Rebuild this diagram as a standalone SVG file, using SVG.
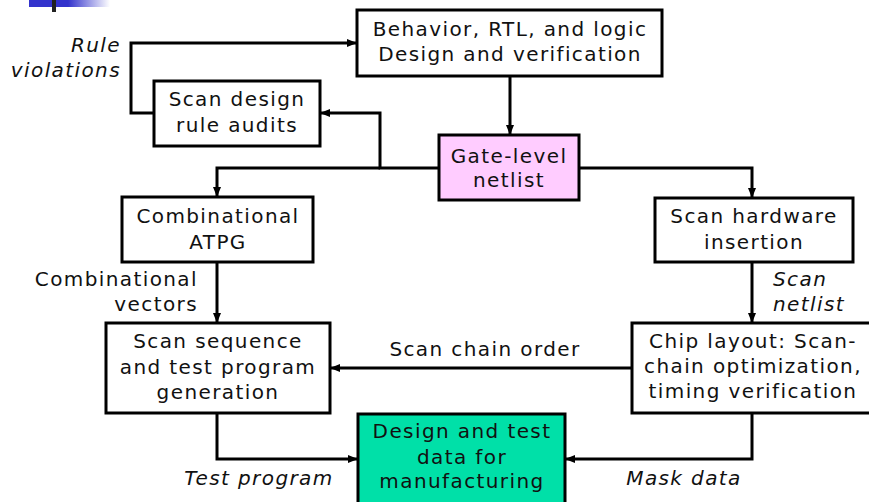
<svg xmlns="http://www.w3.org/2000/svg" width="869" height="502" viewBox="0 0 869 502">
<defs>
<linearGradient id="fade" x1="0" y1="0" x2="1" y2="0">
<stop offset="0" stop-color="#3333CC"/>
<stop offset="1" stop-color="#FFFFFF"/>
</linearGradient>
<marker id="arr" markerUnits="userSpaceOnUse" markerWidth="10" markerHeight="10" viewBox="0 0 10 10" refX="10" refY="5" orient="auto">
<path d="M0,1 L10,5 L0,9 Z" fill="#000"/>
</marker>
<style>
.box{fill:#fff;stroke:#000;stroke-width:3}
.pink{fill:#FFCCFF}
.green{fill:#00E0A8}
text{font-family:"DejaVu Sans","Verdana",sans-serif;font-size:20px;fill:#111;letter-spacing:1.4px}
.c{text-anchor:middle}
.r{text-anchor:end}
.it{font-style:italic}
.ln{fill:none;stroke:#000;stroke-width:3;marker-end:url(#arr)}
</style>
</defs>
<rect width="869" height="502" fill="#fff"/>
<g id="decoration">
<rect x="29" y="0" width="40" height="7" fill="#3333CC"/>
<rect x="68" y="0" width="42" height="7" fill="url(#fade)"/>
<rect x="52" y="0" width="4" height="12" fill="#222"/>
</g>
<g id="connectors">
<polyline class="ln" points="154,113 131,113 131,43 357,43"/>
<polyline class="ln" points="510,76 510,135"/>
<polyline class="ln" points="439,168 380,168 380,113 320,113"/>
<polyline class="ln" points="380,168 217,168 217,197"/>
<polyline class="ln" points="579,168 752,168 752,198"/>
<polyline class="ln" points="217,262 217,323"/>
<polyline class="ln" points="752,262 752,323"/>
<polyline class="ln" points="632,368 330,368"/>
<polyline class="ln" points="217,413 217,459 358,459"/>
<polyline class="ln" points="752,413 752,459 565,459"/>
</g>
<g id="labels">
<text class="r it" x="121" y="52">Rule</text>
<text class="r it" x="121" y="77">violations</text>
<text class="r" x="198" y="286">Combinational</text>
<text class="r" x="198" y="311">vectors</text>
<text class="c" x="485" y="356">Scan chain order</text>
<text class="it" x="773" y="286">Scan</text>
<text class="it" x="773" y="311">netlist</text>
<text class="c it" x="259" y="485">Test program</text>
<text class="c it" x="684" y="485">Mask data</text>
</g>
<g id="behavior">
<rect class="box" x="357" y="10" width="305" height="66"/>
<text class="c" x="510" y="36">Behavior, RTL, and logic</text>
<text class="c" x="510" y="61">Design and verification</text>
</g>
<g id="scan-design">
<rect class="box" x="154" y="81" width="166" height="65"/>
<text class="c" x="237" y="106">Scan design</text>
<text class="c" x="237" y="132">rule audits</text>
</g>
<g id="gate-level">
<rect class="box pink" x="439" y="135" width="140" height="65"/>
<text class="c" x="509" y="163">Gate-level</text>
<text class="c" x="509" y="187">netlist</text>
</g>
<g id="comb-atpg">
<rect class="box" x="122" y="197" width="191" height="65"/>
<text class="c" x="218" y="223">Combinational</text>
<text class="c" x="218" y="249">ATPG</text>
</g>
<g id="scan-hw">
<rect class="box" x="655" y="198" width="198" height="64"/>
<text class="c" x="754" y="223">Scan hardware</text>
<text class="c" x="754" y="249">insertion</text>
</g>
<g id="scan-seq">
<rect class="box" x="106" y="323" width="224" height="90"/>
<text class="c" x="218" y="348">Scan sequence</text>
<text class="c" x="218" y="374">and test program</text>
<text class="c" x="218" y="399">generation</text>
</g>
<g id="chip-layout">
<rect class="box" x="632" y="323" width="250" height="90"/>
<text class="c" x="753" y="348">Chip layout: Scan-</text>
<text class="c" x="753" y="373">chain optimization,</text>
<text class="c" x="753" y="398">timing verification</text>
</g>
<g id="design-data">
<rect class="box green" x="358" y="414" width="207" height="92"/>
<text class="c" x="462" y="438">Design and test</text>
<text class="c" x="462" y="464">data for</text>
<text class="c" x="462" y="488">manufacturing</text>
</g>
</svg>
